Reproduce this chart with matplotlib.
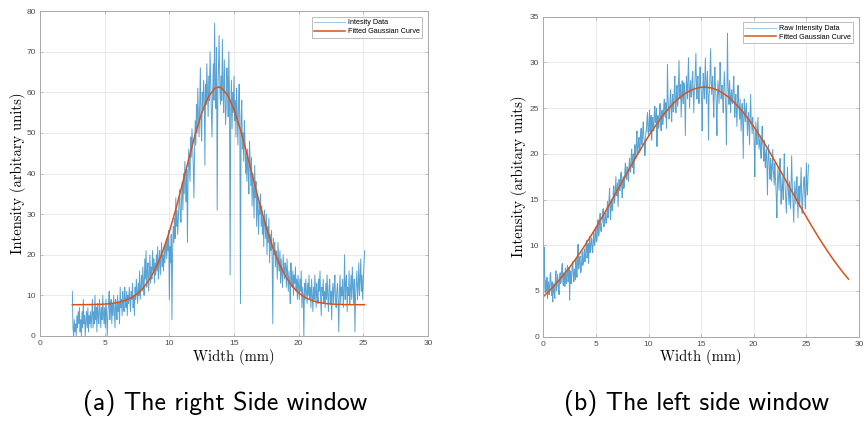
import numpy as np
import matplotlib
matplotlib.use("Agg")
import matplotlib.pyplot as plt

# ---------------- Data: (a) right side window ----------------
a_x_start, a_x_step = 2.5, 0.05
a_raw = [
    11, 2, 0, 4, 1, 3, 0, 5, 2, 6,
    3, 7, 1, 4, 0, 6, 2, 9, 3, 5, 0, 4, 6, 2, 7, 1, 5, 3, 6, 2,
    5, 9, 2, 6, 3, 10, 4, 7, 1, 8, 5, 3, 9, 6, 2, 7, 4, 10, 6, 3,
    7, 2, 9, 5, 0, 6, 8, 11, 4, 7, 9, 3, 8, 5, 10, 6, 2, 9, 7, 4,
    10, 6, 8, 3, 12, 7, 9, 5, 11, 8, 6, 12, 9, 7, 11, 5, 10, 8, 12, 9,
    6, 11, 9, 13, 7, 10, 5, 12, 9, 14, 11, 8, 13, 10, 16, 9, 12, 15, 11, 17,
    13, 10, 19, 14, 21, 12, 16, 18, 11, 15, 20, 13, 17, 14, 21, 16, 19, 13, 18, 15,
    20, 16, 22, 14, 18, 21, 15, 19, 23, 17, 20, 16, 22, 18, 21, 23, 19, 24, 21, 26,
    9, 22, 18, 25, 4, 20, 27, 23, 29, 24, 34, 27, 31, 25, 29, 33, 36, 30, 28, 34,
    38, 31, 40, 35, 43, 37, 33, 41, 23, 39, 46, 42, 38, 49, 44, 51, 47, 42, 34, 45,
    53, 47, 57, 50, 61, 54, 49, 58, 66, 52, 48, 60, 56, 63, 59, 42, 62, 57, 67, 61,
    54, 64, 58, 70, 62, 55, 49, 60, 67, 58, 77, 63, 56, 71, 31, 60, 66, 74, 62, 57,
    64, 58, 73, 61, 55, 68, 60, 52, 57, 66, 62, 54, 70, 59, 15, 56, 63, 51, 60, 55,
    64, 53, 58, 49, 61, 55, 47, 57, 62, 51, 8, 54, 58, 46, 50, 43, 53, 48, 40, 45,
    38, 46, 41, 35, 48, 43, 37, 44, 32, 40, 36, 29, 42, 34, 38, 27, 35, 31, 25, 33,
    30, 35, 27, 32, 25, 29, 22, 31, 28, 24, 30, 20, 27, 23, 29, 18, 25, 21, 26, 19,
    3, 24, 20, 23, 17, 21, 19, 14, 23, 18, 16, 21, 13, 19, 15, 12, 20, 17, 14, 18,
    17, 12, 19, 15, 11, 16, 13, 8, 18, 14, 12, 16, 10, 15, 13, 17, 11, 14, 9, 15,
    12, 9, 14, 11, 16, 7, 12, 10, 0, 13, 9, 14, 11, 8, 13, 10, 15, 9, 12, 7,
    14, 10, 6, 12, 9, 15, 11, 7, 13, 10, 8, 14, 11, 16, 9, 5, 12, 10, 14, 8,
    11, 7, 13, 9, 15, 10, 6, 12, 14, 8, 11, 4, 10, 13, 8, 12, 15, 9, 7, 11,
    13, 9, 1, 11, 15, 8, 12, 10, 14, 7, 11, 20, 9, 13, 15, 6, 12, 10, 16, 8,
    11, 15, 9, 17, 12, 8, 14, 1, 10, 13, 16, 9, 12, 18, 10, 14, 19, 11, 15, 9,
    14, 17, 21,
]
a_fit_x = [2.5, 3, 3.5, 4, 4.5, 5, 5.5, 6, 6.5, 7, 7.5, 8, 8.5, 9, 9.5, 10,
           10.5, 11, 11.5, 12, 12.5, 13, 13.5, 13.8, 14, 14.5, 15, 15.5, 16,
           16.5, 17, 17.5, 18, 18.5, 19, 19.5, 20, 20.5, 21, 21.5, 22, 22.5,
           23, 23.5, 24, 24.5, 25, 25.1]
a_fit_y = [7.70, 7.71, 7.72, 7.74, 7.78, 7.85, 7.99, 8.23, 8.65, 9.31, 10.35,
           11.89, 14.08, 17.06, 20.91, 25.65, 31.19, 37.30, 43.60, 49.63, 54.86,
           58.77, 60.94, 61.30, 61.14, 59.35, 55.76, 50.76, 44.84, 38.56, 32.37,
           26.70, 21.79, 17.76, 14.61, 12.27, 10.61, 9.48, 8.76, 8.30, 8.03,
           7.87, 7.79, 7.74, 7.72, 7.71, 7.70, 7.70]

# ---------------- Data: (b) left side window ----------------
b_x_start, b_x_step = 0.0, 0.05
b_raw = [
    5.5, 6.8, 9.8, 5.2, 4.8, 6.2, 5.0, 6.5, 4.2, 5.6, 6.0, 4.6, 5.0, 6.8, 7.0, 5.2, 4.5, 6.0, 3.8, 5.4,
    5.8, 4.6, 4.2, 6.5, 7.2, 5.0, 5.5, 6.8, 6.3, 5.2, 4.6, 6.4, 7.0, 5.8, 6.0, 7.4, 8.0, 6.2, 5.6, 7.0,
    6.8, 5.5, 7.5, 6.4, 5.8, 7.2, 7.8, 6.0, 6.4, 7.6, 4.0, 6.5, 7.2, 5.8, 6.5, 8.0, 8.2, 6.8, 6.0, 7.4,
    7.0, 6.2, 8.5, 7.2, 6.5, 8.0, 10.1, 7.4, 7.5, 8.6, 8.8, 7.0, 7.2, 8.4, 9.3, 7.8, 8.0, 9.0, 9.6, 8.2,
    8.5, 9.8, 10.5, 8.6, 9.0, 10.2, 8.0, 9.6, 11.0, 9.2, 9.5, 10.8, 10.8, 9.4, 9.2, 10.6, 11.5, 10.0, 10.0, 11.2,
    12.0, 10.4, 10.5, 11.8, 12.8, 11.0, 11.2, 12.6, 13.5, 11.8, 11.5, 12.4, 12.5, 13.8, 14.0, 12.0, 12.2, 13.2, 13.5, 12.4,
    12.5, 13.8, 14.8, 13.0, 13.5, 15.2, 16.2, 14.0, 12.8, 14.6, 15.0, 13.8, 14.2, 15.8, 16.5, 14.6, 15.0, 16.2, 17.5, 15.4,
    15.5, 16.8, 14.2, 15.6, 17.2, 16.0, 16.0, 17.6, 18.0, 16.4, 15.2, 17.0, 17.5, 16.2, 16.5, 18.2, 19.0, 17.4, 17.2, 18.6,
    18.5, 17.2, 17.0, 18.8, 19.5, 18.0, 18.0, 19.6, 20.5, 18.8, 18.5, 20.0, 17.8, 19.2, 21.0, 19.6, 19.5, 21.4, 22.5, 20.2,
    20.0, 21.4, 21.8, 20.2, 20.5, 22.2, 22.8, 21.0, 21.0, 22.6, 23.5, 21.8, 21.5, 19.8, 20.6, 22.5, 22.5, 23.8, 24.5, 22.4,
    22.0, 23.6, 24.8, 22.4, 23.0, 24.2, 21.5, 23.0, 24.0, 22.8, 22.5, 24.6, 25.2, 23.4, 23.5, 25.0, 20.8, 23.6, 24.2, 22.8,
    23.0, 24.8, 25.5, 23.4, 22.5, 24.6, 24.8, 23.2, 23.8, 25.4, 26.0, 24.2, 24.0, 25.6, 22.8, 24.6, 29.8, 26.2, 25.0, 23.8,
    24.5, 26.2, 27.0, 24.8, 23.5, 25.8, 26.5, 24.6, 25.0, 27.2, 28.5, 25.8, 24.5, 26.6, 27.5, 25.2, 25.5, 27.8, 30.2, 26.4,
    26.0, 27.6, 24.0, 26.2, 28.0, 26.4, 25.5, 27.8, 27.5, 25.6, 22.0, 26.2, 28.5, 27.0, 26.0, 28.6, 30.5, 27.2, 25.0, 27.4,
    28.0, 26.2, 26.5, 28.4, 29.0, 26.6, 24.5, 27.2, 27.5, 29.2, 31.0, 27.6, 26.0, 28.2, 28.5, 26.4, 25.5, 27.8, 29.5, 27.4,
    27.0, 25.4, 22.5, 26.6, 28.8, 27.2, 26.0, 28.4, 30.5, 27.6, 25.5, 27.8, 29.0, 26.2, 21.5, 26.4, 27.0, 29.2, 31.5, 28.0,
    26.5, 27.8, 28.5, 25.8, 24.0, 27.2, 29.5, 27.6, 26.5, 24.8, 22.0, 26.4, 28.0, 26.8, 25.5, 27.6, 30.0, 28.2, 26.0, 27.4,
    27.5, 25.8, 24.5, 27.2, 29.0, 27.4, 26.0, 24.6, 21.0, 26.4, 33.2, 28.0, 26.5, 25.4, 28.0, 26.8, 24.5, 26.2, 27.0, 25.6,
    25.5, 27.2, 28.5, 26.0, 24.0, 25.8, 26.5, 24.6, 23.0, 25.4, 27.5, 25.8, 25.0, 23.8, 26.0, 24.4, 22.5, 24.6, 25.5, 23.4,
    19.5, 23.8, 26.0, 24.2, 23.5, 25.0, 25.5, 23.6, 22.0, 23.8, 24.5, 22.6, 21.0, 24.2, 26.5, 24.0, 23.0, 22.2, 24.0, 22.8,
    22.5, 20.6, 17.5, 21.8, 23.5, 22.0, 21.0, 22.6, 24.0, 21.8, 20.5, 21.2, 22.0, 20.4, 19.5, 21.6, 23.0, 21.2, 20.5, 19.2,
    21.5, 19.6, 18.5, 20.2, 20.5, 18.4, 15.5, 19.2, 21.0, 19.4, 18.0, 17.2, 19.5, 18.6, 17.0, 18.8, 20.5, 18.4, 17.5, 16.6,
    19.0, 17.6, 16.5, 15.0, 13.0, 16.8, 18.5, 17.2, 16.0, 18.0, 19.5, 16.6, 14.5, 16.2, 17.5, 16.0, 15.0, 17.8, 20.0, 17.2,
    16.0, 14.6, 13.5, 16.2, 18.5, 16.8, 15.5, 14.4, 17.0, 15.6, 14.0, 16.8, 19.8, 17.0, 15.5, 13.8, 12.5, 15.2, 17.0, 15.8,
    14.5, 16.2, 17.5, 15.0, 13.0, 15.4, 16.5, 14.2, 15.0, 16.8, 18.5, 15.6, 13.5, 15.0, 16.0, 17.2, 17.5, 15.4, 14.0, 16.6,
    19.0, 16.2, 15.5, 17.4, 18.8,
]
b_fit_x = [0, 0.5, 1, 1.5, 2, 2.5, 3, 3.5, 4, 4.5, 5, 5.5, 6, 6.5, 7, 7.5, 8,
           8.5, 9, 9.5, 10, 10.5, 11, 11.5, 12, 12.5, 13, 13.5, 14, 14.5, 15,
           15.5, 16, 16.5, 17, 17.5, 18, 18.5, 19, 19.5, 20, 20.5, 21, 21.5,
           22, 22.5, 23, 23.5, 24, 24.5, 25, 25.5, 26, 26.5, 27, 27.5, 28,
           28.5, 29]
b_fit_y = [4.38, 4.93, 5.52, 6.17, 6.86, 7.59, 8.37, 9.20, 10.07, 10.98, 11.92,
           12.89, 13.89, 14.91, 15.94, 16.97, 18.00, 19.02, 20.02, 20.99, 21.92,
           22.80, 23.63, 24.39, 25.07, 25.68, 26.19, 26.62, 26.94, 27.16, 27.28,
           27.29, 27.20, 26.99, 26.69, 26.29, 25.79, 25.20, 24.53, 23.79, 22.97,
           22.10, 21.18, 20.22, 19.22, 18.21, 17.18, 16.15, 15.11, 14.09, 13.09,
           12.11, 11.16, 10.25, 9.37, 8.53, 7.75, 7.00, 6.30]

captions = ["(a) The right Side window", "(b) The left side window"]
legend_a = ["Intesity Data", "Fitted Gaussian Curve"]
legend_b = ["Raw Intensity Data", "Fitted Gaussian Curve"]
xlabel = "Width (mm)"
ylabel = "Intensity (arbitary units)"

a_x = np.round(a_x_start + a_x_step * np.arange(len(a_raw)), 3)
b_x = np.round(b_x_start + b_x_step * np.arange(len(b_raw)), 3)

BLUE = "#0072BD"
ORANGE = "#D95319"
AXC = "#4d4d4d"

fig = plt.figure(figsize=(8.64, 4.22), dpi=100)
ax1 = fig.add_axes([40 / 864, 1 - 336 / 422, (428 - 40) / 864, (336 - 11) / 422])
ax2 = fig.add_axes([543.3 / 864, 1 - 336.7 / 422, (859 - 543.3) / 864, (336.7 - 16.7) / 422])


def style(ax, xlim, ylim, xticks, yticks, ylabelpad):
    ax.set_xlim(*xlim)
    ax.set_ylim(*ylim)
    ax.set_xticks(xticks)
    ax.set_yticks(yticks)
    ax.grid(True, color="#e8e8e8", linewidth=0.6)
    ax.set_axisbelow(True)
    for s in ax.spines.values():
        s.set_color("#a8a8a8")
        s.set_linewidth(0.7)
    ax.tick_params(axis="both", labelsize=6, colors="#a8a8a8", labelcolor=AXC,
                   length=2.5, width=0.5, direction="in", top=True, right=True, pad=3)
    for lab in ax.get_xticklabels() + ax.get_yticklabels():
        lab.set_family("Liberation Sans")
    ax.set_xlabel(xlabel, family="cmr10", fontsize=10.5, labelpad=1)
    ax.set_ylabel(ylabel, family="cmr10", fontsize=10.5, labelpad=ylabelpad)


ax1.plot(a_x, a_raw, color=BLUE, alpha=0.65, linewidth=0.7, label=legend_a[0])
ax1.plot(a_fit_x, a_fit_y, color=ORANGE, linewidth=1.1, label=legend_a[1])
style(ax1, (0, 30), (0, 80), [0, 5, 10, 15, 20, 25, 30], range(0, 81, 10), 0)

ax2.plot(b_x, b_raw, color=BLUE, alpha=0.65, linewidth=0.7, label=legend_b[0])
ax2.plot(b_fit_x, b_fit_y, color=ORANGE, linewidth=1.1, label=legend_b[1])
style(ax2, (0, 30), (0, 35), [0, 5, 10, 15, 20, 25, 30], range(0, 36, 5), 2)

for ax in (ax1, ax2):
    leg = ax.legend(loc="upper right", prop={"family": "Liberation Sans", "size": 5.2},
                    frameon=True, fancybox=False, borderpad=0.35, handlelength=4.2,
                    handletextpad=0.4, labelspacing=0.25, borderaxespad=0.8)
    leg.get_frame().set_edgecolor("#a0a0a0")
    leg.get_frame().set_linewidth(0.6)
    leg.get_lines()[0].set_alpha(0.4)

fig.text(225 / 864, 1 - 403 / 422, captions[0], family="cmss10", fontsize=18.5,
         ha="center", va="center")
fig.text(696 / 864, 1 - 403 / 422, captions[1], family="cmss10", fontsize=18.5,
         ha="center", va="center")

fig.savefig("out.png", dpi=100)
